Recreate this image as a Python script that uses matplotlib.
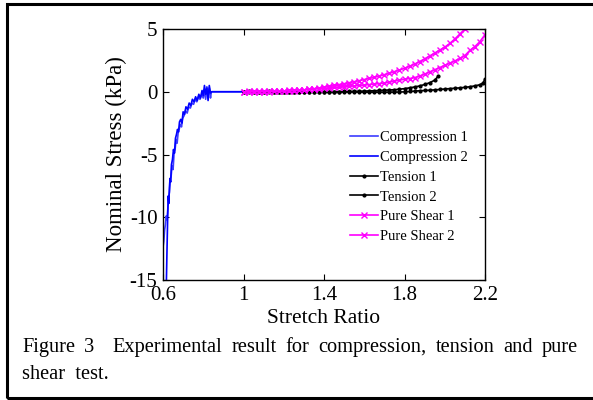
import matplotlib
matplotlib.use('Agg')
import matplotlib.pyplot as plt
from matplotlib.patches import Rectangle

plt.rcParams['font.family'] = ['Liberation Serif', 'DejaVu Serif']

# ---------------- data ----------------
comp1_x = [0.598, 0.600, 0.604, 0.608, 0.612, 0.616, 0.620, 0.624, 0.628, 0.632, 0.636,
           0.640, 0.645, 0.650, 0.655, 0.660, 0.665, 0.670, 0.675, 0.680, 0.686, 0.692,
           0.698, 0.705, 0.712, 0.720, 0.728, 0.736, 0.744, 0.752, 0.760, 0.768, 0.776,
           0.784, 0.792, 0.800, 0.806, 0.812, 0.818, 0.824, 0.830, 0.836, 0.840, 1.000]
comp1_y = [-16.0, -12.4, -11.9, -11.0, -10.6, -9.9, -10.2, -9.3, -8.4, -8.0, -7.1,
           -6.8, -5.9, -6.2, -4.9, -4.6, -3.8, -4.1, -3.3, -3.0, -2.6, -2.8,
           -2.1, -1.9, -1.5, -1.7, -1.2, -1.3, -0.9, -1.0, -0.6, -0.8, -0.4,
           -0.6, -0.2, -0.5, 0.2, -0.6, 0.4, -0.3, 0.3, -0.5, 0.0, 0.0]

comp2_x = [0.614, 0.617, 0.620, 0.623, 0.626, 0.629, 0.632, 0.635, 0.638,
           0.642, 0.647, 0.652, 0.657, 0.662, 0.667, 0.672, 0.677, 0.682, 0.688, 0.694,
           0.700, 0.707, 0.714, 0.722, 0.730, 0.738, 0.746, 0.754, 0.762, 0.770, 0.778,
           0.786, 0.794, 0.800, 0.806, 0.812, 0.818, 0.824, 0.830, 0.836, 0.842, 1.000]
comp2_y = [-17.0, -15.0, -12.5, -10.2, -8.3, -8.9, -7.6, -6.9, -7.2,
           -5.8, -5.4, -4.6, -4.9, -3.7, -3.4, -3.0, -3.2, -2.4, -2.2, -2.5,
           -1.6, -1.8, -1.2, -1.4, -0.9, -1.1, -0.6, -0.8, -0.4, -0.7, -0.2,
           -0.5, 0.1, -0.3, 0.5, -0.2, 0.3, -0.7, 0.5, -0.1, 0.0, 0.0]

ten1_x = [1.000, 1.025, 1.050, 1.075, 1.100, 1.125, 1.150, 1.175, 1.200, 1.225, 1.250,
          1.275, 1.300, 1.325, 1.350, 1.375, 1.400, 1.425, 1.450, 1.475, 1.500, 1.525,
          1.550, 1.575, 1.600, 1.625, 1.650, 1.675, 1.700, 1.725, 1.750, 1.775, 1.800,
          1.825, 1.850, 1.875, 1.900, 1.925, 1.950, 1.968]
ten1_y = [0.00, 0.02, -0.02, 0.01, -0.01, 0.02, 0.00, -0.02, 0.01, 0.00, -0.01,
          0.01, 0.00, -0.02, 0.00, 0.01, -0.01, 0.00, 0.01, 0.00, 0.02, 0.02,
          0.03, 0.04, 0.05, 0.07, 0.08, 0.10, 0.12, 0.14, 0.16, 0.20, 0.25,
          0.31, 0.38, 0.46, 0.58, 0.72, 0.92, 1.25]

ten2_x = [1.000, 1.025, 1.050, 1.075, 1.100, 1.125, 1.150, 1.175, 1.200, 1.225, 1.250,
          1.275, 1.300, 1.325, 1.350, 1.375, 1.400, 1.425, 1.450, 1.475, 1.500, 1.525,
          1.550, 1.575, 1.600, 1.625, 1.650, 1.675, 1.700, 1.725, 1.750, 1.775, 1.800,
          1.825, 1.850, 1.875, 1.900, 1.925, 1.950, 1.975, 2.000, 2.025, 2.050, 2.075,
          2.100, 2.125, 2.150, 2.175, 2.190, 2.200]
ten2_y = [0.00, -0.02, 0.01, -0.01, 0.00, -0.02, 0.01, -0.01, -0.02, 0.00, -0.01,
          -0.02, 0.00, -0.01, -0.02, 0.00, -0.01, -0.02, -0.01, -0.02, -0.02, -0.02,
          -0.02, -0.03, -0.03, -0.03, -0.04, -0.03, -0.04, -0.03, -0.03, -0.02, -0.01,
          0.02, 0.05, 0.08, 0.10, 0.12, 0.15, 0.18, 0.22, 0.25, 0.28, 0.31,
          0.35, 0.40, 0.47, 0.56, 0.70, 1.00]

ps1_x = [1.000, 1.025, 1.050, 1.075, 1.100, 1.125, 1.150, 1.175, 1.200, 1.225, 1.250,
         1.275, 1.300, 1.325, 1.350, 1.375, 1.400, 1.425, 1.450, 1.475, 1.500, 1.525,
         1.550, 1.575, 1.600, 1.625, 1.650, 1.675, 1.700, 1.725, 1.750, 1.775, 1.800,
         1.825, 1.850, 1.875, 1.900, 1.925, 1.950, 1.975, 2.000, 2.025, 2.050, 2.075,
         2.100, 2.125]
ps1_y = [0.00, 0.05, -0.03, 0.06, 0.00, 0.07, 0.02, 0.08, 0.05, 0.10, 0.09,
         0.13, 0.15, 0.19, 0.24, 0.30, 0.37, 0.45, 0.50, 0.57, 0.64, 0.72,
         0.80, 0.88, 0.97, 1.06, 1.15, 1.25, 1.36, 1.47, 1.60, 1.73, 1.87,
         2.03, 2.20, 2.40, 2.62, 2.85, 3.08, 3.32, 3.55, 3.85, 4.20, 4.60,
         5.00, 5.50]

ps2_x = [1.000, 1.025, 1.050, 1.075, 1.100, 1.125, 1.150, 1.175, 1.200, 1.225, 1.250,
         1.275, 1.300, 1.325, 1.350, 1.375, 1.400, 1.425, 1.450, 1.475, 1.500, 1.525,
         1.550, 1.575, 1.600, 1.625, 1.650, 1.675, 1.700, 1.725, 1.750, 1.775, 1.800,
         1.825, 1.850, 1.875, 1.900, 1.925, 1.950, 1.975, 2.000, 2.025, 2.050, 2.075,
         2.100, 2.125, 2.150, 2.175, 2.200]
ps2_y = [0.00, -0.04, 0.05, -0.02, 0.04, 0.00, 0.06, 0.03, 0.07, 0.06, 0.10,
         0.12, 0.15, 0.18, 0.21, 0.24, 0.27, 0.30, 0.34, 0.37, 0.40, 0.43,
         0.46, 0.50, 0.53, 0.57, 0.61, 0.65, 0.69, 0.77, 0.85, 0.93, 1.00,
         1.05, 1.12, 1.25, 1.40, 1.58, 1.75, 1.93, 2.10, 2.28, 2.45, 2.65,
         2.88, 3.30, 3.60, 4.00, 4.55]

labels = ['Compression 1', 'Compression 2', 'Tension 1', 'Tension 2',
          'Pure Shear 1', 'Pure Shear 2']
xticks = [0.6, 1.0, 1.4, 1.8, 2.2]
xticklabels = ['0.6', '1', '1.4', '1.8', '2.2']
yticks = [-15, -10, -5, 0, 5]
yticklabels = ['-15', '-10', '-5', '0', '5']
caption1 = ['Figure', '3', '', 'Experimental', 'result', 'for', 'compression,',
            'tension', 'and', 'pure']
caption2 = 'shear  test.'

# ---------------- figure ----------------
W, H = 593, 400
fig = plt.figure(figsize=(W / 100, H / 100), dpi=100)
ax = fig.add_axes([163 / W, 1 - 280 / H, (485 - 163) / W, (280 - 29) / H])

lw = 1.2
ax.plot(comp1_x, comp1_y, color='#3c3cff', lw=lw, label=labels[0])
ax.plot(comp2_x, comp2_y, color='#0000ff', lw=lw, label=labels[1])
ax.plot(ten1_x, ten1_y, color='black', lw=lw, marker='.', ms=4, label=labels[2])
ax.plot(ten2_x, ten2_y, color='black', lw=lw, marker='.', ms=4, label=labels[3])
ax.plot(ps1_x, ps1_y, color='#ff00ff', lw=lw, marker='x', ms=4, mew=1.0, label=labels[4])
ax.plot(ps2_x, ps2_y, color='#ff00ff', lw=lw, marker='x', ms=4, mew=1.0, label=labels[5])

ax.set_xlim(0.6, 2.2)
ax.set_ylim(-15, 5)
ax.set_xticks(xticks)
ax.set_xticklabels(xticklabels)
ax.set_yticks(yticks)
ax.set_yticklabels(yticklabels)
ax.tick_params(direction='in', top=True, right=True, length=4, width=0.8,
               labelsize=15)
ax.tick_params(axis='x', pad=4)
ax.tick_params(axis='y', pad=4)
for s in ax.spines.values():
    s.set_linewidth(1.0)

ax.set_xlabel('Stretch Ratio', fontsize=15.5, labelpad=3)
ax.set_ylabel('Nominal Stress (kPa)', fontsize=16.5, labelpad=2)

leg = ax.legend(loc='upper left', frameon=False,
                fontsize=10.5, handlelength=1.9, handletextpad=0.15,
                labelspacing=0.45, numpoints=1, borderaxespad=0, borderpad=0)
leg.set_bbox_to_anchor((350 / W, 1 - 131 / H), transform=fig.transFigure)

# outer frame
fig.patches.append(Rectangle((7 / W, 2 / H), 1.05, 1 - 6 / H, transform=fig.transFigure,
                             fill=False, lw=2.2, ec='black', clip_on=False))

# caption, justified first line
fs_cap = 14.7
x0, x1 = 22, 578
y_line1 = 1 - 352 / H
y_line2 = 1 - 379 / H
fig.canvas.draw()
r = fig.canvas.get_renderer()
texts = []
widths = []
for w in caption1:
    t = fig.text(0, y_line1, w if w else ' ', fontsize=fs_cap, ha='left', va='baseline')
    texts.append(t)
    widths.append(t.get_window_extent(r).width if w else 0.0)
ngaps = len(caption1) - 1
gap = (x1 - x0 - sum(widths)) / ngaps
xpos = x0
for t, wd, w in zip(texts, widths, caption1):
    t.set_x(xpos / W)
    if not w:
        t.set_visible(False)
    xpos += wd + gap
fig.text(x0 / W, y_line2, caption2, fontsize=fs_cap, ha='left', va='baseline')

fig.savefig('out.png', dpi=100)
